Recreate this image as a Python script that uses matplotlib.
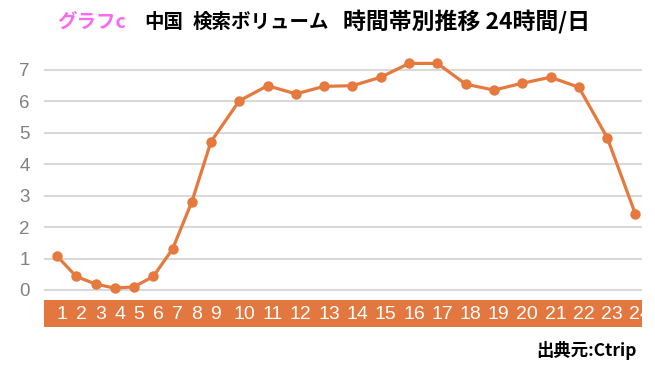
import matplotlib
matplotlib.use("Agg")
import matplotlib.pyplot as plt
import numpy as np

# ---- data ----
hours = [str(h) for h in range(1, 25)]
volume = [1.08, 0.43, 0.19, 0.06, 0.10, 0.43, 1.30, 2.80, 4.72, 6.02, 6.50, 6.24,
          6.48, 6.50, 6.77, 7.21, 7.21, 6.55, 6.36, 6.58, 6.77, 6.45, 4.85, 2.41]
yticks = [0, 1, 2, 3, 4, 5, 6, 7]
title_tag = "グラフc"
title_country = "中国"
title_subject = "検索ボリューム"
title_period = "時間帯別推移 24時間/日"
source = "出典元:Ctrip"

ORANGE = "#E5793E"
BAND = "#E2773F"
GRID = "#D9D9D9"
TICK = "#808080"
PINK = "#F86AF0"

W, H = 655, 370
fig = plt.figure(figsize=(W / 100, H / 100), dpi=100)

# category positions: spacing follows label width (1-digit vs 2-digit labels)
gaps = [0.0] + [1.0 if len(h) == 1 else 1.47 for h in hours[1:]]
xpos = np.cumsum(gaps)

# pixel geometry
px_first, px_unit = 57, 19.25
ax_l, ax_r = 45, 641
y0_px, y7_px = 290, 70
xlim = ((ax_l - px_first) / px_unit, (ax_r - px_first) / px_unit)

def fr(x0, y_top, x1, y_bot):
    return [x0 / W, 1 - y_bot / H, (x1 - x0) / W, (y_bot - y_top) / H]

ax = fig.add_axes(fr(ax_l, y7_px, ax_r, y0_px))
ax.set_xlim(*xlim)
ax.set_ylim(0, 7)
for v in yticks:
    ax.axhline(v, color=GRID, lw=1.5, zorder=1, clip_on=False)
ax.plot(xpos, volume, color=ORANGE, lw=2.3, marker="o", ms=7.5,
        markeredgewidth=0, zorder=3, clip_on=False)
for s in ax.spines.values():
    s.set_visible(False)
ax.set_xticks([])
ax.set_yticks(yticks)
ax.set_yticklabels([str(v) for v in yticks], color=TICK, fontsize=13.5,
                   family=["Liberation Sans", "DejaVu Sans"])
ax.tick_params(axis="y", length=0, pad=11)
ax.patch.set_visible(False)

# orange label band
bx = fig.add_axes(fr(44, 300, 642, 327))
bx.set_xlim((44 - px_first) / px_unit, (642 - px_first) / px_unit)
bx.set_ylim(0, 1)
bx.set_facecolor(BAND)
for s in bx.spines.values():
    s.set_visible(False)
bx.set_xticks([]); bx.set_yticks([])
for x, lab in zip(xpos, hours):
    bx.text(x + 0.25, 0.47, lab, color="white", fontsize=14, ha="center", va="center",
            family=["Liberation Sans Narrow", "Liberation Sans", "DejaVu Sans"],
            clip_on=True)

# titles
fam = ["Noto Sans CJK JP", "DejaVu Sans"]
ty = 1 - 22 / H
fig.text(57 / W, ty, title_tag, color=PINK, fontsize=14, fontweight="bold",
         ha="left", va="center", family=fam)
fig.text(144 / W, ty, title_country, color="black", fontsize=14, fontweight="bold",
         ha="left", va="center", family=fam)
fig.text(193 / W, ty, title_subject, color="black", fontsize=14, fontweight="bold",
         ha="left", va="center", family=fam)
fig.text(343 / W, ty, title_period, color="black", fontsize=16.5, fontweight="bold",
         ha="left", va="center", family=fam)
fig.text(637 / W, 1 - 350 / H, source, color="black", fontsize=12.5, fontweight="bold",
         ha="right", va="center", family=fam)

fig.savefig("out.png", dpi=100)
